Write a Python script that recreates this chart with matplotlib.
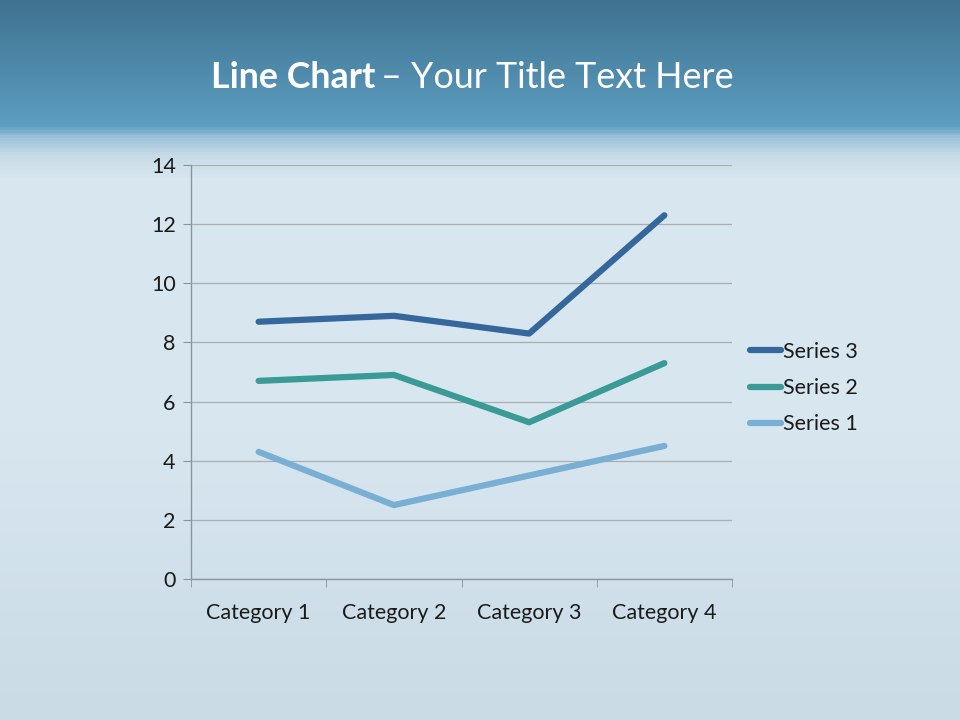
import numpy as np
import matplotlib
matplotlib.use('Agg')
import matplotlib.pyplot as plt
from matplotlib.colors import LinearSegmentedColormap

categories = ['Category 1', 'Category 2', 'Category 3', 'Category 4']
series_1 = [4.3, 2.5, 3.5, 4.5]
series_2 = [6.7, 6.9, 5.3, 7.3]
series_3 = [8.7, 8.9, 8.3, 12.3]
series_names = ['Series 1', 'Series 2', 'Series 3']
y_ticks = [0, 2, 4, 6, 8, 10, 12, 14]

colors = {'Series 1': '#79afd3', 'Series 2': '#3a9a96', 'Series 3': '#36679c'}

plt.rcParams['font.family'] = ['Lato', 'DejaVu Sans']

fig = plt.figure(figsize=(9.6, 7.2), dpi=100)

# background: dark blue header band fading into icy light blue
bg = fig.add_axes([0, 0, 1, 1], zorder=-10)
bg.set_axis_off()
stops = [(0.0, '#3f7390'), (0.172, '#5c9dc1'), (0.19, '#9fc3d9'),
         (0.215, '#c8dce8'), (0.25, '#d9e7f0'), (0.6, '#d8e6ef'), (0.85, '#cfdfea'), (1.0, '#cadbe6')]
cmap = LinearSegmentedColormap.from_list('bg', stops)
grad = np.linspace(0, 1, 720).reshape(-1, 1)
bg.imshow(grad, cmap=cmap, aspect='auto', extent=[0, 1, 0, 1], origin='upper')
bg.set_xlim(0, 1)
bg.set_ylim(0, 1)

# title in two weights
t1 = fig.text(211 / 960, 1 - 78 / 720, 'Line Chart', color='white', fontsize=25.8,
              fontweight='bold', va='center', ha='left')
fig.canvas.draw()
bb = t1.get_window_extent()
fig.text(bb.x1 / 960 + 0.006, 1 - 78 / 720, '\u2013 Your Title Text Here', color='white',
         fontsize=25.8, va='center', ha='left')

ax = fig.add_axes([191 / 960, 1 - 579 / 720, (732 - 191) / 960, (579 - 165) / 720])
ax.patch.set_alpha(0)

x = np.arange(len(categories))
data = {'Series 1': series_1, 'Series 2': series_2, 'Series 3': series_3}
for name in reversed(series_names):
    ax.plot(x, data[name], color=colors[name], lw=4.5, label=name,
            solid_capstyle='round', solid_joinstyle='round', zorder=3)

ax.set_xlim(-0.5, len(categories) - 0.5)
ax.set_ylim(0, 14)
ax.set_yticks(y_ticks)
ax.set_yticklabels([str(v) for v in y_ticks], fontsize=15.5, color='#1a1a1a')
ax.set_xticks(x)
ax.set_xticklabels(categories, fontsize=15.5, color='#1a1a1a')
ax.set_xticks(np.arange(-0.5, len(categories)), minor=True)
ax.tick_params(axis='x', which='major', length=0, pad=17)
ax.tick_params(axis='x', which='minor', length=6, color='#8a969e', direction='out')
ax.tick_params(axis='y', length=6, color='#8a969e', direction='out', pad=5)

ax.grid(True, axis='y', color='#a9aeb2', lw=0.9)
ax.set_axisbelow(True)
for side in ['top', 'right']:
    ax.spines[side].set_visible(False)
for side in ['left', 'bottom']:
    ax.spines[side].set_color('#8a969e')
    ax.spines[side].set_linewidth(1.0)

leg = ax.legend(loc='center left', bbox_to_anchor=(1.033, 0.461), frameon=False,
                borderaxespad=0, borderpad=0,
                fontsize=15.5, handlelength=1.45, handletextpad=0.1, labelspacing=0.75)
for txt in leg.get_texts():
    txt.set_color('#1a1a1a')

fig.savefig('out.png', dpi=100)
